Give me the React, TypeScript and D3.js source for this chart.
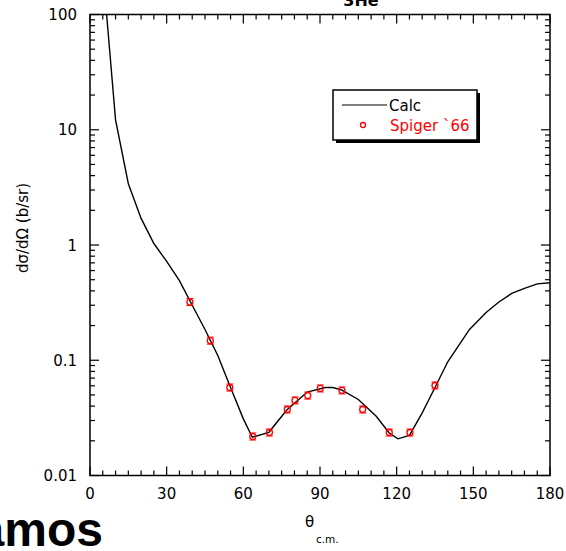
import React from "react";
import * as d3 from "d3";

const calcAngle = [5, 6.5, 10, 15, 20, 25, 30, 35, 40, 45, 50, 55, 60, 63.5, 70, 77, 85, 92, 95, 98.6, 105, 112, 117, 120.5, 125, 130, 135, 140, 148.5, 155, 160, 165, 170, 175, 180];
const calcValue = [200, 100, 12.2, 3.4, 1.7, 1.03, 0.72, 0.49, 0.3, 0.185, 0.11, 0.058, 0.031, 0.0215, 0.0237, 0.037, 0.053, 0.058, 0.058, 0.055, 0.0457, 0.0327, 0.0235, 0.0208, 0.0223, 0.035, 0.058, 0.097, 0.185, 0.26, 0.32, 0.38, 0.42, 0.46, 0.47];

const expAngle = [39.1, 47.1, 54.7, 63.7, 70.2, 77.2, 80.2, 85.2, 90.1, 98.6, 106.7, 117.1, 125.2, 135.0];
const expValue = [0.32, 0.148, 0.058, 0.0218, 0.0236, 0.0374, 0.0448, 0.0494, 0.0569, 0.0547, 0.0374, 0.0236, 0.0236, 0.0604];

const xTicks = [0, 30, 60, 90, 120, 150, 180];
const yTicks = [0.01, 0.1, 1, 10, 100];
const yTickLabels = ["0.01", "0.1", "1", "10", "100"];

const FONT = "'DejaVu Sans', Verdana, sans-serif";

export default function App() {
  const W = 566, H = 551;
  const L = 90, R = 550, T = 14.5, B = 475.5;
  const x = d3.scaleLinear().domain([0, 180]).range([L, R]);
  const y = d3.scaleLog().domain([0.01, 100]).range([B, T]);

  const line = d3.line<number>().x((_, i) => x(calcAngle[i])).y((d) => y(d));

  const minorX = d3.range(0, 181, 5);
  const minorY: number[] = [];
  for (let e = -2; e < 2; e++) for (let m = 1; m < 10; m++) minorY.push(m * Math.pow(10, e));
  minorY.push(100);

  return (
    <svg width={W} height={H} style={{ position: "absolute", left: 0, top: 0, background: "#fff" }}>
      <defs>
        <clipPath id="plot">
          <rect x={L} y={T} width={R - L} height={B - T} />
        </clipPath>
      </defs>
      {/* title */}
      <text x={361} y={6} textAnchor="middle" fontFamily={FONT} fontWeight="bold" fontSize={16}>3He</text>

      {/* ticks */}
      <g stroke="#000" strokeWidth={1.2}>
        {minorX.map((v) => {
          const major = v % 30 === 0;
          const len = major ? 9 : 5;
          return (
            <g key={"x" + v}>
              <line x1={x(v)} x2={x(v)} y1={B} y2={B - len} />
              <line x1={x(v)} x2={x(v)} y1={T} y2={T + len} />
            </g>
          );
        })}
        {minorY.map((v, i) => {
          const major = Math.abs(Math.log10(v) - Math.round(Math.log10(v))) < 1e-9;
          const len = major ? 9 : 5;
          return (
            <g key={"y" + i}>
              <line x1={L} x2={L + len} y1={y(v)} y2={y(v)} />
              <line x1={R} x2={R - len} y1={y(v)} y2={y(v)} />
            </g>
          );
        })}
      </g>

      {/* curve */}
      <g clipPath="url(#plot)">
        <path d={line(calcValue) || ""} fill="none" stroke="#000" strokeWidth={1.4} />
      </g>

      {/* data points */}
      <g stroke="#ff0000" fill="none" strokeWidth={1.3}>
        {expValue.map((v, i) => {
          const cx = x(expAngle[i]);
          const cy = y(v);
          return (
            <g key={"p" + i}>
              <circle cx={cx} cy={cy} r={3} />
              <line x1={cx - 3.5} x2={cx + 3.5} y1={cy - 3.5} y2={cy - 3.5} strokeWidth={1} />
              <line x1={cx - 3.5} x2={cx + 3.5} y1={cy + 3.5} y2={cy + 3.5} strokeWidth={1} />
            </g>
          );
        })}
      </g>

      {/* frame */}
      <rect x={L} y={T} width={R - L} height={B - T} fill="none" stroke="#000" strokeWidth={1.5} />

      {/* x tick labels */}
      {xTicks.map((v) => (
        <text key={"xl" + v} x={x(v)} y={499} textAnchor="middle" fontFamily={FONT} fontSize={15}>{v}</text>
      ))}
      {/* y tick labels */}
      {yTicks.map((v, i) => (
        <text key={"yl" + v} x={77} y={y(v) + 5.5} textAnchor="end" fontFamily={FONT} fontSize={15}>{yTickLabels[i]}</text>
      ))}

      {/* axis titles */}
      <text transform="translate(28,228) rotate(-90)" textAnchor="middle" fontFamily={FONT} fontSize={15}>dσ/dΩ  (b/sr)</text>
      <text x={305} y={527} fontFamily={FONT} fontSize={15}>θ</text>
      <text x={316} y={543} fontFamily={FONT} fontSize={10.5}>c.m.</text>

      {/* legend */}
      <rect x={336} y={93} width={144} height={50} fill="#000" />
      <rect x={333} y={90} width={144} height={50} fill="#fff" stroke="#000" strokeWidth={1.5} />
      <line x1={342} x2={387} y1={105} y2={105} stroke="#000" strokeWidth={1.2} />
      <text x={389} y={110.5} fontFamily={FONT} fontSize={15}>Calc</text>
      <circle cx={363} cy={125} r={2.5} fill="none" stroke="#ff0000" strokeWidth={1.3} />
      <text x={390} y={130.5} fontFamily={FONT} fontSize={15} fill="#ff0000">Spiger `66</text>

      {/* logo fragment */}
      <text x={103} y={546} textAnchor="end" fontFamily="'Liberation Sans', Arial, sans-serif" fontWeight="bold" fontSize={48}>amos</text>
    </svg>
  );
}
